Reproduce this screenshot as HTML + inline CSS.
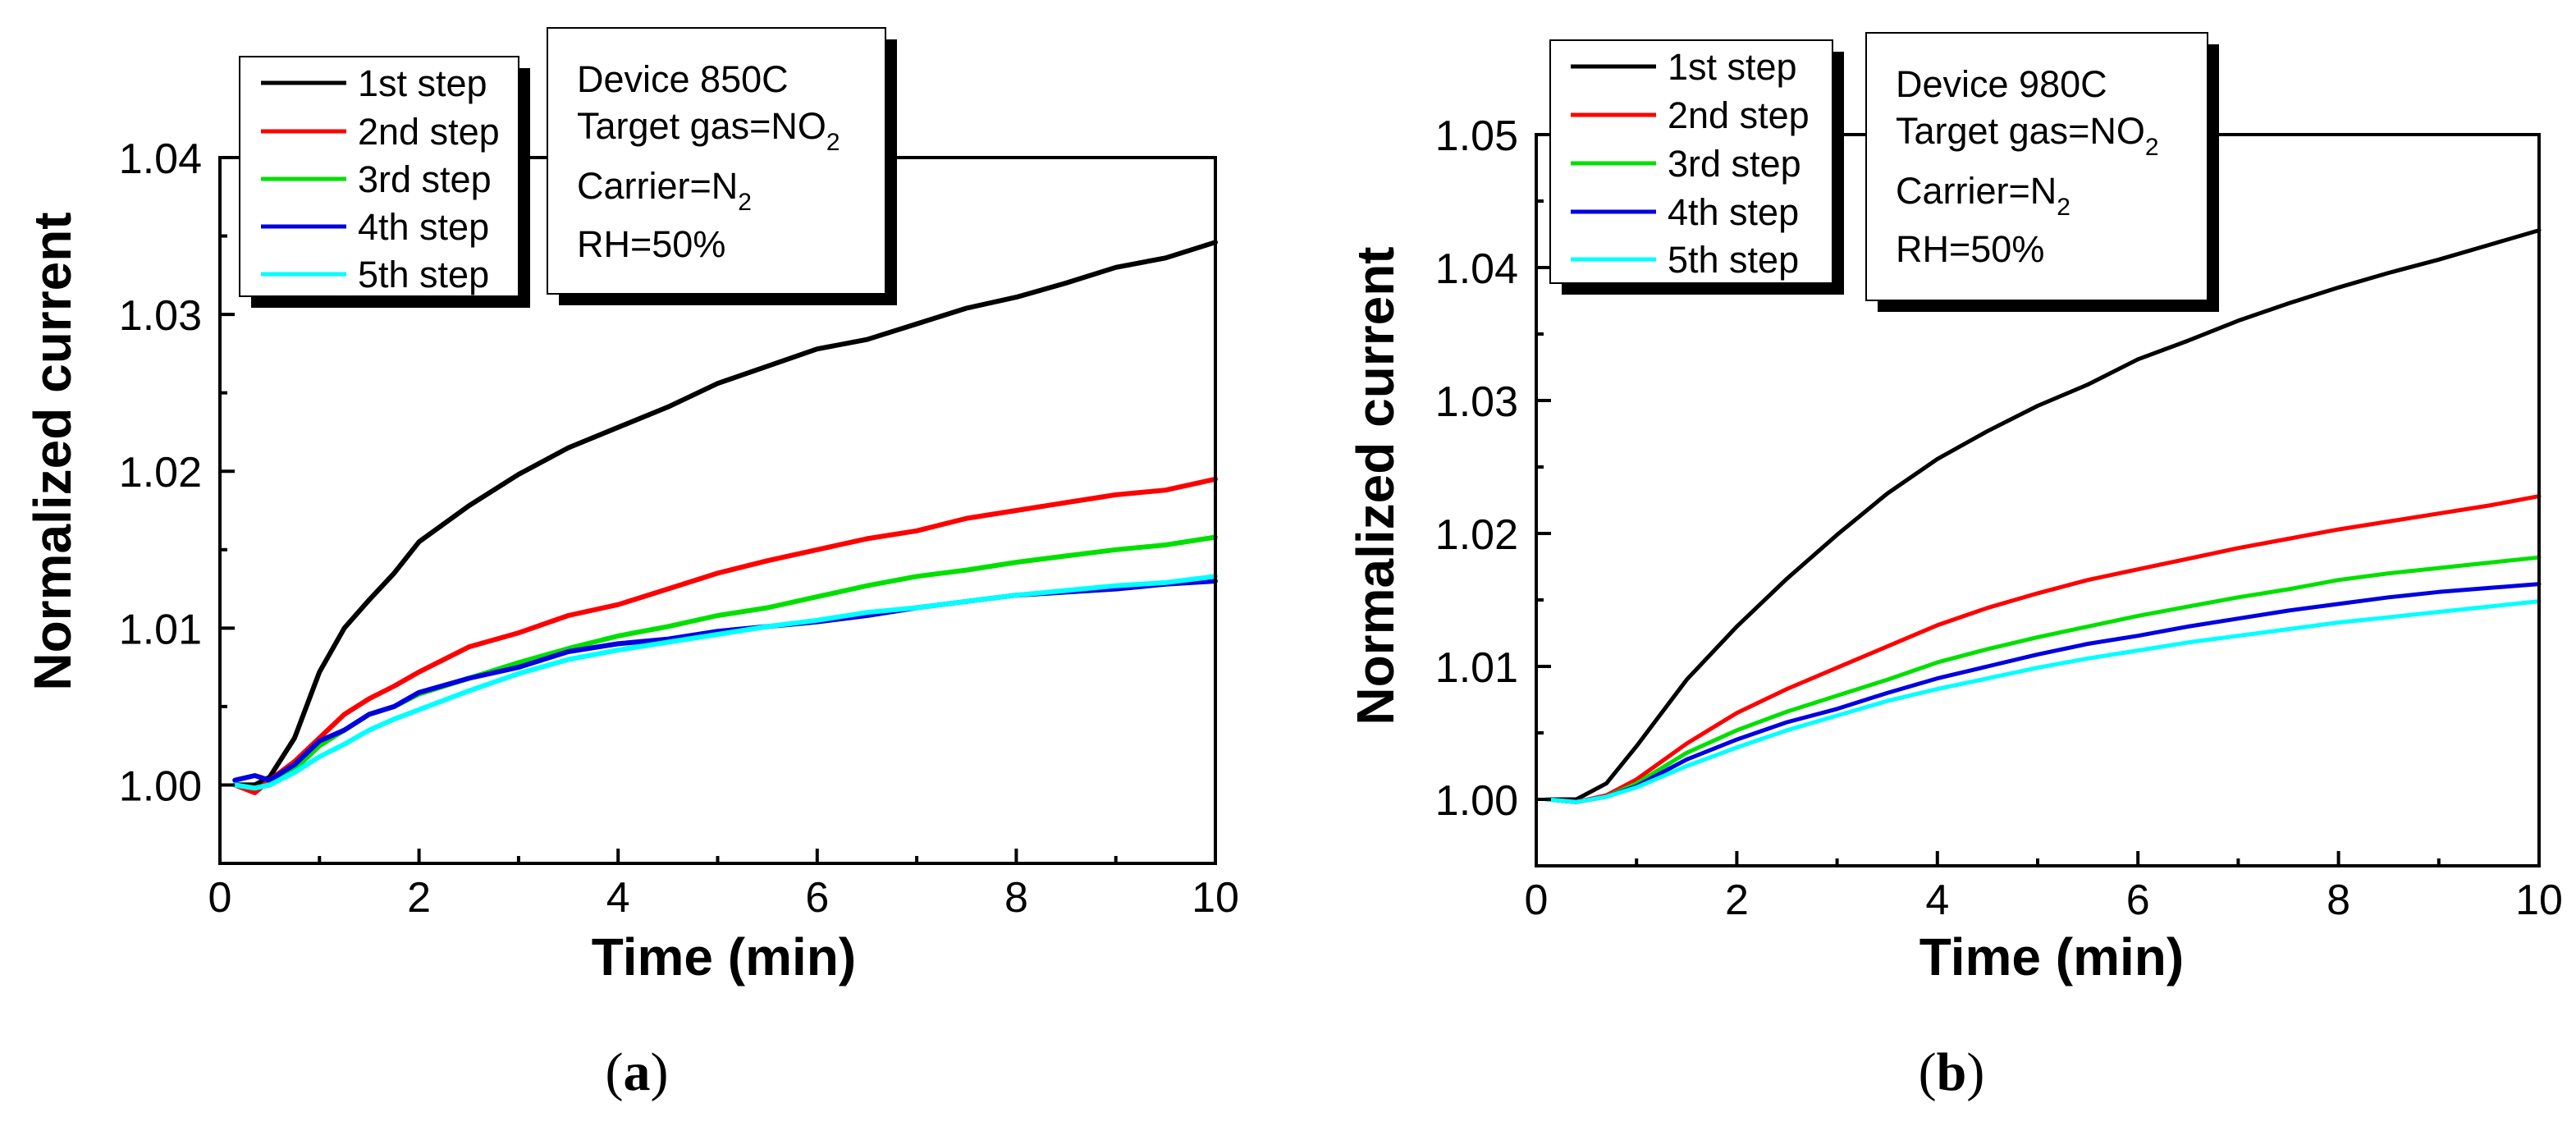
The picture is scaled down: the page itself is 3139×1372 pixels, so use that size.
<!DOCTYPE html>
<html><head><meta charset="utf-8"><style>
html,body{margin:0;padding:0;background:#fff;}
svg{display:block;font-family:"Liberation Sans",Arial,sans-serif;}
</style></head><body>
<svg id="fig" width="3139" height="1372" viewBox="0 0 3139 1372" xmlns="http://www.w3.org/2000/svg"></svg>
<script>
// ---- Panel (a) data ----
const timeA = [0.15,0.35,0.5,0.75,1,1.25,1.5,1.75,2,2.5,3,3.5,4,4.5,5,5.5,6,6.5,7,7.5,8,8.5,9,9.5,10];
const a1 = [1.0,1.0,1.0005,1.0030,1.0072,1.0100,1.0118,1.0135,1.0155,1.0178,1.0198,1.0215,1.0228,1.0241,1.0256,1.0267,1.0278,1.0284,1.0294,1.0304,1.0311,1.0320,1.0330,1.0336,1.0346];
const a2 = [1.0,0.9995,1.0003,1.0015,1.0030,1.0045,1.0055,1.0063,1.0072,1.0088,1.0097,1.0108,1.0115,1.0125,1.0135,1.0143,1.0150,1.0157,1.0162,1.0170,1.0175,1.0180,1.0185,1.0188,1.0195];
const a3 = [1.0,0.9998,1.0,1.0010,1.0025,1.0035,1.0045,1.0050,1.0058,1.0068,1.0078,1.0087,1.0095,1.0101,1.0108,1.0113,1.0120,1.0127,1.0133,1.0137,1.0142,1.0146,1.0150,1.0153,1.0158];
const a4 = [1.0003,1.0006,1.0003,1.0013,1.0028,1.0035,1.0045,1.0050,1.0059,1.0068,1.0075,1.0085,1.0090,1.0093,1.0098,1.0101,1.0104,1.0108,1.0113,1.0117,1.0121,1.0123,1.0125,1.0128,1.0130];
const a5 = [1.0,0.9998,1.0,1.0008,1.0018,1.0026,1.0035,1.0042,1.0048,1.0060,1.0071,1.0080,1.0086,1.0091,1.0096,1.0101,1.0105,1.0110,1.0113,1.0117,1.0121,1.0124,1.0127,1.0129,1.0133];
const yTicksA = ["1.00","1.01","1.02","1.03","1.04"];
// ---- Panel (b) data ----
const timeB = [0.1,0.4,0.7,1,1.5,2,2.5,3,3.5,4,4.5,5,5.5,6,6.5,7,7.5,8,8.5,9,9.5,10];
const b1 = [1.0,1.0,1.0012,1.0040,1.0090,1.0130,1.0166,1.0199,1.0230,1.0256,1.0277,1.0296,1.0312,1.0331,1.0345,1.0360,1.0373,1.0385,1.0396,1.0406,1.0417,1.0428];
const b2 = [1.0,0.9998,1.0003,1.0015,1.0042,1.0065,1.0083,1.0099,1.0115,1.0131,1.0144,1.0155,1.0165,1.0173,1.0181,1.0189,1.0196,1.0203,1.0209,1.0215,1.0221,1.0228];
const b3 = [1.0,0.9998,1.0002,1.0012,1.0035,1.0052,1.0066,1.0078,1.0090,1.0103,1.0113,1.0122,1.0130,1.0138,1.0145,1.0152,1.0158,1.0165,1.0170,1.0174,1.0178,1.0182];
const b4 = [1.0,0.9998,1.0002,1.0010,1.0030,1.0045,1.0058,1.0068,1.0080,1.0091,1.0100,1.0109,1.0117,1.0123,1.0130,1.0136,1.0142,1.0147,1.0152,1.0156,1.0159,1.0162];
const b5 = [1.0,0.9998,1.0002,1.0009,1.0025,1.0039,1.0052,1.0063,1.0074,1.0083,1.0091,1.0099,1.0106,1.0112,1.0118,1.0123,1.0128,1.0133,1.0137,1.0141,1.0145,1.0149];
const yTicksB = ["1.00","1.01","1.02","1.03","1.04","1.05"];
const xTicks = ["0","2","4","6","8","10"];
const stepNames = ["1st step","2nd step","3rd step","4th step","5th step"];
const colors = ["#000000","#ff0000","#00e000","#0000e0","#00ffff"];

const NS="http://www.w3.org/2000/svg";
const svg=document.getElementById('fig');
function mk(tag,attrs,parent,text){const e=document.createElementNS(NS,tag);for(const k in attrs)e.setAttribute(k,attrs[k]);if(text!==undefined)e.textContent=text;(parent||svg).appendChild(e);return e;}

function panel(cfg){
  const g=mk('g',{});
  
  
  const X=v=>cfg.x0+(v-0)/10*(cfg.x1-cfg.x0);
  const Y=v=>cfg.yb-(v-cfg.ymin)/(cfg.ymax-cfg.ymin)*(cfg.yb-cfg.yt);
  cfg.series.forEach((s,i)=>{
    const pts=cfg.time.map((t,j)=>X(t).toFixed(1)+','+Y(s[j]).toFixed(1)).join(' ');
    const pl=mk('polyline',{points:pts,fill:'none',stroke:colors[i],'stroke-width':cfg.lw,'stroke-linejoin':'round','stroke-linecap':'round'},g);
    
    
  });
  const fr=mk('rect',{x:cfg.x0,y:cfg.yt,width:cfg.x1-cfg.x0,height:cfg.yb-cfg.yt,fill:'none',stroke:'#000','stroke-width':4},g);
  
  
  for(let k=0;k<=10;k++){
    const len=(k%2===0)?18:9;
    mk('line',{x1:X(k),x2:X(k),y1:cfg.yb,y2:cfg.yb-len,stroke:'#000','stroke-width':4},g);
  }
  xTicks.forEach(l=>{
    const t=mk('text',{x:X(+l),y:cfg.yb+59,'font-size':52,'text-anchor':'middle'},g,l);
    
    
  });
  for(let v=cfg.ymin;v<=cfg.ymax+1e-9;v+=0.005){
    const major=Math.abs(Math.round(v*100)-v*100)<1e-6;
    mk('line',{x1:cfg.x0,x2:cfg.x0+(major?18:9),y1:Y(v),y2:Y(v),stroke:'#000','stroke-width':4},g);
  }
  cfg.yTicks.forEach(l=>{
    const t=mk('text',{x:cfg.x0-22,y:Y(+l)+19,'font-size':52,'text-anchor':'end'},g,l);
    
    
  });
  const xt=mk('text',{x:cfg.xtx,y:1188,'font-size':64,'font-weight':'bold','text-anchor':'middle'},g,'Time (min)');
  
  
  const yt=mk('text',{x:0,y:0,'font-size':64,'font-weight':'bold','text-anchor':'middle',transform:`translate(${cfg.ytx},${cfg.yty}) rotate(-90)`},g,'Normalized current');
  
  
  const pl=mk('text',{x:cfg.plx,y:1328,'font-size':66,'text-anchor':'middle','font-family':'"Liberation Serif",serif'},g);
  mk('tspan',{},pl,'(');
  mk('tspan',{'font-weight':'bold'},pl,cfg.letter);
  mk('tspan',{},pl,')');
  
  
  const L=cfg.leg;
  mk('rect',{x:L.x+14,y:L.y+14,width:L.w,height:L.h,fill:'#000'},g);
  const lb=mk('rect',{x:L.x,y:L.y,width:L.w,height:L.h,fill:'#fff',stroke:'#000','stroke-width':2},g);
  
  
  stepNames.forEach((n,i)=>{
    const yy=L.ry[i];
    const ln=mk('line',{x1:L.lx,x2:L.lx+104,y1:yy,y2:yy,stroke:colors[i],'stroke-width':5},g);
    
    
    const tx=mk('text',{x:L.lx+118,y:yy+16,'font-size':45},g,n);
    
    
  });
  const B=cfg.box;
  mk('rect',{x:B.x+14,y:B.y+14,width:B.w,height:B.h,fill:'#000'},g);
  const bb=mk('rect',{x:B.x,y:B.y,width:B.w,height:B.h,fill:'#fff',stroke:'#000','stroke-width':2},g);
  
  
  const tx=B.x+36;
  const t1=mk('text',{x:tx,y:B.y+78,'font-size':45},g,cfg.device);
  
  
  const t2=mk('text',{x:tx,y:B.y+135,'font-size':45},g);
  mk('tspan',{},t2,'Target gas=NO');
  mk('tspan',{'font-size':30,dy:14},t2,'2');
  
  
  const t3=mk('text',{x:tx,y:B.y+208,'font-size':45},g);
  mk('tspan',{},t3,'Carrier=N');
  mk('tspan',{'font-size':30,dy:14},t3,'2');
  
  
  const t4=mk('text',{x:tx,y:B.y+279,'font-size':45},g,'RH=50%');
  
  
}

panel({name:'panel-a',letter:'a',x0:268,x1:1481,yt:192,yb:1052,ymin:0.995,ymax:1.04,lw:6,
  time:timeA,series:[a1,a2,a3,a4,a5],yTicks:yTicksA,xtx:882,ytx:86,yty:550,plx:776,
  leg:{x:292,y:69,w:340,h:292,lx:318,ry:[101,160,218,276,334]},
  box:{x:667,y:34,w:412,h:324},device:'Device 850C'});
panel({name:'panel-b',letter:'b',x0:1872,x1:3094,yt:164,yb:1055,ymin:0.995,ymax:1.05,lw:5,
  time:timeB,series:[b1,b2,b3,b4,b5],yTicks:yTicksB,xtx:2500,ytx:1698,yty:592,plx:2378,
  leg:{x:1889,y:49,w:344,h:296,lx:1914,ry:[81,140,199,258,316]},
  box:{x:2274,y:40,w:416,h:326},device:'Device 980C'});
</script>
</body></html>
